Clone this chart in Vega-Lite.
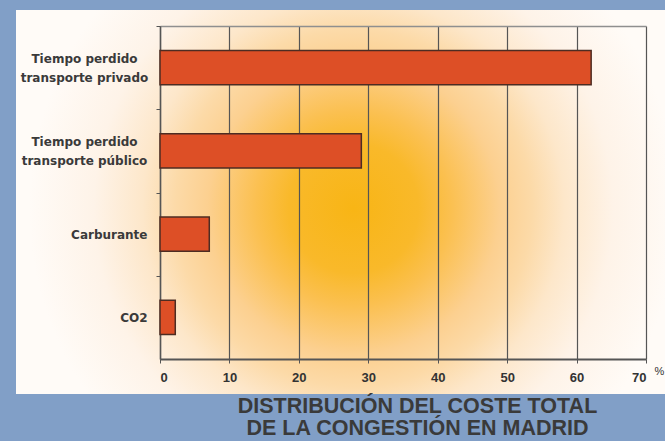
{
  "$schema": "https://vega.github.io/schema/vega-lite/v6.json",
  "width": 649,
  "height": 384,
  "autosize": {"type": "none"},
  "padding": {"left": 16, "top": 10, "right": 0, "bottom": 47},
  "background": "#819fc7",
  "data": {
    "values": [
      {"concepto": "Tiempo perdido transporte privado", "porcentaje": 62.1},
      {"concepto": "Tiempo perdido transporte público", "porcentaje": 29.0},
      {"concepto": "Carburante", "porcentaje": 7.1},
      {"concepto": "CO2", "porcentaje": 2.2}
    ]
  },
  "title": {
    "text": ["DISTRIBUCIÓN DEL COSTE TOTAL", "DE LA CONGESTIÓN EN MADRID"],
    "orient": "bottom",
    "anchor": "middle",
    "frame": "group",
    "dx": 77,
    "offset": 2,
    "font": "Liberation Sans",
    "fontSize": 21.5,
    "fontWeight": "bold",
    "color": "#3a3a3a",
    "lineHeight": 22
  },
  "layer": [
    {
      "mark": {"type": "bar", "fill": "#dd4f26", "stroke": "#4d2c22", "strokeWidth": 1.5},
      "encoding": {
        "y": {
          "field": "concepto",
          "type": "nominal",
          "sort": null,
          "scale": {"range": [16, 349], "paddingInner": 0.59, "paddingOuter": 0.295},
          "axis": {
            "title": null,
            "offset": -144,
            "grid": false,
            "domainColor": "#555555",
            "domainWidth": 1.5,
            "tickColor": "#555555",
            "tickSize": 4,
            "tickOffset": -41.6,
            "labelOffset": {
              "condition": {"test": "isString(datum.value) && indexof(datum.value, ' transporte') > 0", "value": 32.1},
              "value": 41.6
            },
            "labelAlign": {
              "condition": {"test": "isString(datum.value) && indexof(datum.value, ' transporte') > 0", "value": "center"},
              "value": "right"
            },
            "labelPadding": {
              "condition": {"test": "isString(datum.value) && indexof(datum.value, ' transporte') > 0", "value": 72},
              "value": 9
            },
            "labelFont": "DejaVu Sans",
            "labelFontSize": 12,
            "labelFontWeight": "bold",
            "labelColor": "#3a3a3a",
            "labelLineHeight": 19,
            "labelLimit": 200,
            "labelExpr": "isString(datum.value) && indexof(datum.value, ' transporte') > 0 ? [substring(datum.value, 0, indexof(datum.value, ' transporte')), substring(datum.value, indexof(datum.value, ' transporte') + 1)] : datum.label"
          }
        },
        "x": {
          "field": "porcentaje",
          "type": "quantitative",
          "scale": {"domain": [0, 70], "range": [144, 630], "nice": false},
          "axis": {
            "offset": -35,
            "values": [0, 10, 20, 30, 40, 50, 60, 70],
            "domainColor": "#555555",
            "domainWidth": 2,
            "tickColor": "#555555",
            "tickSize": 4,
            "grid": false,
            "labelFont": "Liberation Sans",
            "labelFontSize": 13,
            "labelFontWeight": "bold",
            "labelColor": "#333333",
            "labelPadding": 8,
            "title": "%",
            "titleX": 638,
            "titleY": 12,
            "titleAlign": "left",
            "titleBaseline": "middle",
            "titleFont": "Liberation Sans",
            "titleFontSize": 11,
            "titleFontWeight": "normal",
            "titleColor": "#333333"
          }
        }
      }
    },
    {
      "mark": {"type": "bar", "opacity": 0},
      "encoding": {
        "y": {"field": "concepto", "type": "nominal", "sort": null},
        "x": {
          "field": "porcentaje",
          "type": "quantitative",
          "axis": {
            "orient": "top",
            "offset": -16,
            "values": [0, 10, 20, 30, 40, 50, 60, 70],
            "labels": false,
            "ticks": false,
            "title": null,
            "grid": true,
            "gridColor": "#555555",
            "gridWidth": 1.2,
            "gridOpacity": 1,
            "domainColor": "#8f8f8f",
            "domainWidth": 1.5
          }
        }
      }
    }
  ],
  "resolve": {"axis": {"x": "independent"}},
  "config": {
    "view": {
      "stroke": null,
      "fill": {
        "gradient": "radial",
        "x1": 0.52, "y1": 0.51, "r1": 0,
        "x2": 0.52, "y2": 0.51, "r2": 0.5,
        "stops": [
          {"offset": 0, "color": "#f8b515"},
          {"offset": 0.2, "color": "#f9b92a"},
          {"offset": 0.3, "color": "#fbc050"},
          {"offset": 0.45, "color": "#fcd090"},
          {"offset": 0.55, "color": "#fcdaa8"},
          {"offset": 0.65, "color": "#fde7ca"},
          {"offset": 0.8, "color": "#fef3e8"},
          {"offset": 1, "color": "#fffbf7"}
        ]
      }
    }
  }
}
